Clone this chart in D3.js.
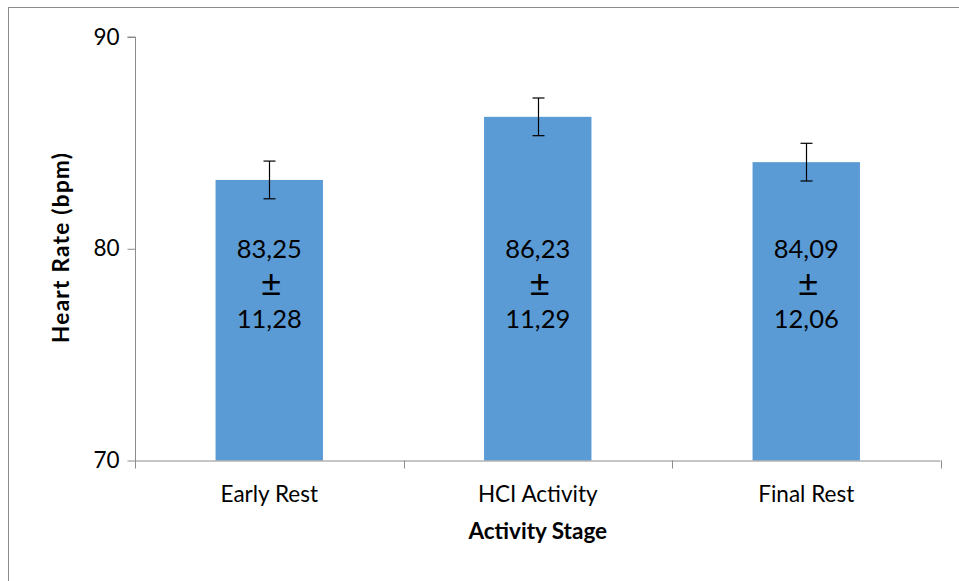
<!DOCTYPE html>
<html><head><meta charset="utf-8">
<script src="https://cdn.jsdelivr.net/npm/d3@7"></script>
<style>body{margin:0;background:#fff}svg{display:block}</style>
</head><body>
<svg id="c" width="959" height="581"></svg>
<script>
const categories = ["Early Rest", "HCI Activity", "Final Rest"];
const means = [83.25, 86.23, 84.09];
const sds = [11.28, 11.29, 12.06];
const errors = [0.89, 0.89, 0.89];
const yTicks = [70, 80, 90];
const meanLabels = ["83,25", "86,23", "84,09"];
const sdLabels = ["11,28", "11,29", "12,06"];

const svg = d3.select("#c");
const font = "Lato, 'Open Sans', sans-serif";
const pLeft = 135, pRight = 940.5, pTop = 37, pBottom = 460.5;

svg.append("rect").attr("x", 8.5).attr("y", 7.5).attr("width", 1000).attr("height", 1000)
  .attr("fill", "none").attr("stroke", "#8c8c8c").attr("stroke-width", 1);

const x = d3.scaleBand().domain(categories).range([pLeft, pRight]).paddingInner(0.6).paddingOuter(0.3);
const y = d3.scaleLinear().domain([70, 90]).range([pBottom, pTop]);

const g = svg.append("g");
g.selectAll("rect.bar").data(categories).join("rect").attr("class", "bar")
  .attr("x", d => x(d)).attr("width", x.bandwidth())
  .attr("y", (d, i) => y(means[i])).attr("height", (d, i) => y(70) - y(means[i]))
  .attr("fill", "#5B9BD5");

const yAxis = d3.axisLeft(y).tickValues(yTicks).tickSize(8).tickPadding(8);
const ya = svg.append("g").attr("transform", `translate(${pLeft + 0.5},0)`).call(yAxis);
ya.select(".domain").attr("stroke", "#8c8c8c").attr("d", `M-8,${y(90)}H0V${y(70)}`);
ya.selectAll(".tick line").attr("stroke", "#8c8c8c");
ya.selectAll(".tick text").attr("font-family", font).attr("font-size", 22.5).attr("fill", "#000");

const step = x.step();
const bounds = categories.map(d => x(d) - step * 0.3).concat([pRight]);
svg.append("line").attr("x1", pLeft).attr("x2", pRight).attr("y1", pBottom + 0.5).attr("y2", pBottom + 0.5)
  .attr("stroke", "#8c8c8c");
svg.selectAll("line.xt").data(bounds).join("line").attr("class", "xt")
  .attr("x1", d => Math.round(d) + 0.5).attr("x2", d => Math.round(d) + 0.5)
  .attr("y1", pBottom).attr("y2", pBottom + 8).attr("stroke", "#8c8c8c");
svg.selectAll("text.xl").data(categories).join("text").attr("class", "xl")
  .attr("x", d => x(d) + x.bandwidth() / 2).attr("y", 502)
  .attr("text-anchor", "middle").attr("font-family", font).attr("font-size", 22.5).attr("fill", "#000")
  .text(d => d);

const eb = svg.append("g").attr("stroke", "#000").attr("stroke-width", 1.2);
categories.forEach((c, i) => {
  const cx = Math.round(x(c) + x.bandwidth() / 2) + 0.5;
  const y1 = y(means[i] + errors[i]), y2 = y(means[i] - errors[i]);
  eb.append("line").attr("x1", cx).attr("x2", cx).attr("y1", y1).attr("y2", y2);
  eb.append("line").attr("x1", cx - 6).attr("x2", cx + 6).attr("y1", y1).attr("y2", y1);
  eb.append("line").attr("x1", cx - 6).attr("x2", cx + 6).attr("y1", y2).attr("y2", y2);
});

categories.forEach((c, i) => {
  const cx = x(c) + x.bandwidth() / 2;
  const t = svg.append("text").attr("text-anchor", "middle").attr("font-family", font)
    .attr("font-size", 25.5).attr("fill", "#000");
  t.append("tspan").attr("x", cx).attr("y", 258).text(meanLabels[i]);
  t.append("tspan").attr("x", cx + 2).attr("y", 296).attr("font-size", 36).text("±");
  t.append("tspan").attr("x", cx).attr("y", 328).text(sdLabels[i]);
});

svg.append("text").attr("x", (pLeft + pRight) / 2).attr("y", 539).attr("text-anchor", "middle")
  .attr("font-family", font).attr("font-weight", "bold").attr("font-size", 22.5).attr("fill", "#000")
  .text("Activity Stage");
svg.append("text").attr("transform", `translate(69,248) rotate(-90)`).attr("text-anchor", "middle")
  .attr("font-family", font).attr("font-weight", "bold").attr("font-size", 22.5).attr("fill", "#000")
  .attr("textLength", 190).attr("lengthAdjust", "spacing")
  .text("Heart Rate (bpm)");
</script>
</body></html>
